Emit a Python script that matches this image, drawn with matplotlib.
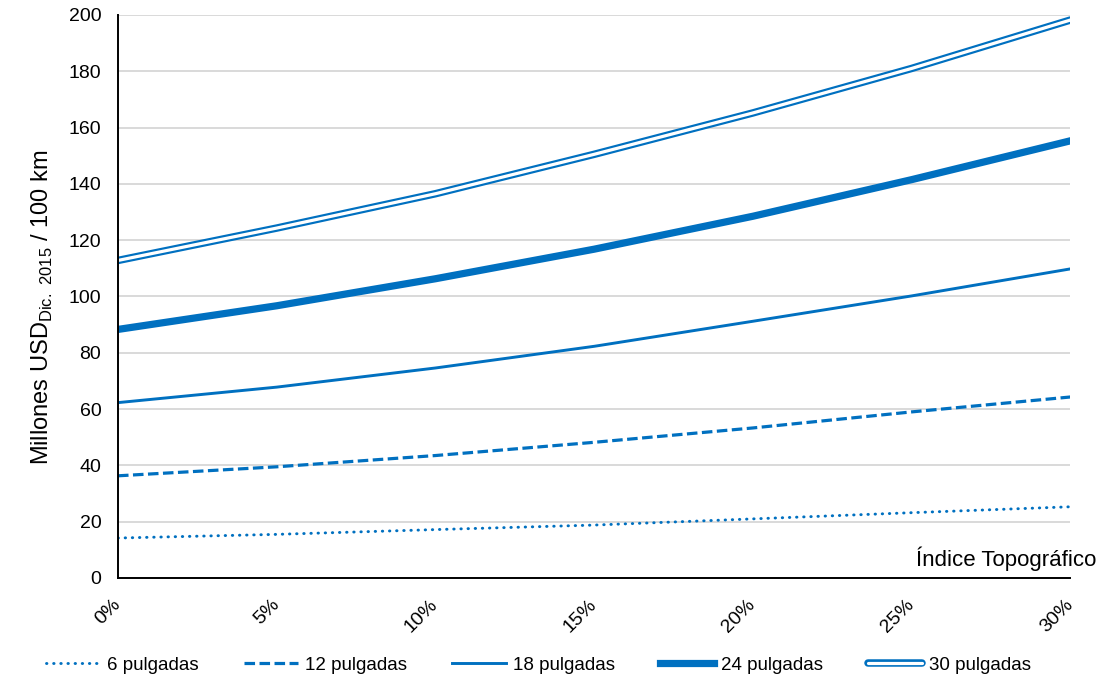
import matplotlib.pyplot as plt
import matplotlib.transforms as mtransforms
from matplotlib.legend_handler import HandlerTuple

plt.rcParams['font.family'] = ['Liberation Sans', 'DejaVu Sans']
plt.rcParams['mathtext.fontset'] = 'custom'
plt.rcParams['mathtext.rm'] = 'Liberation Sans'

# Data
indice = [0, 5, 10, 15, 20, 25, 30]
x_labels = ["0%", "5%", "10%", "15%", "20%", "25%", "30%"]
p6 = [14.2, 15.5, 17.2, 18.8, 21.0, 23.2, 25.3]
p12 = [36.3, 39.5, 43.5, 48.2, 53.3, 59.0, 64.3]
p18 = [62.3, 67.8, 74.6, 82.3, 91.2, 100.2, 109.8]
p24 = [88.3, 96.7, 106.3, 116.8, 128.5, 141.5, 155.3]
p30 = [112.8, 124.3, 136.5, 150.5, 165.2, 181.0, 198.2]

blue = "#0070C0"

fig = plt.figure(figsize=(11.1, 6.8), dpi=100)
ax = fig.add_axes([0.1063, 0.15, 0.858, 0.828])

l6, = ax.plot(indice, p6, color=blue, lw=2.1, linestyle=(0, (0.15, 2.3)),
              dash_capstyle="round", label="6 pulgadas")
l12, = ax.plot(indice, p12, color=blue, lw=2.3, linestyle=(0, (3.3, 1.4)),
               label="12 pulgadas")
l18, = ax.plot(indice, p18, color=blue, lw=2.1, label="18 pulgadas")
l24, = ax.plot(indice, p24, color=blue, lw=5.2, label="24 pulgadas")
l30a, = ax.plot(indice, p30, color=blue, lw=5.4, solid_capstyle="round")
l30b, = ax.plot(indice, p30, color="white", lw=2.3, solid_capstyle="round")

ax.set_xlim(0, 30)
ax.set_ylim(0, 200)
ax.set_yticks(range(0, 201, 20))
ax.set_xticks(indice)
ax.set_xticklabels(x_labels, rotation=45, ha="right", va="top")
ax.tick_params(axis="both", length=0, labelsize=14, colors="black")
ax.tick_params(axis="y", pad=12)
ax.tick_params(axis="x", pad=13)

# nudge the rotated x labels a little to the right
shift = mtransforms.ScaledTranslation(6 / 100, 0, fig.dpi_scale_trans)
for lab in ax.get_xticklabels():
    lab.set_transform(lab.get_transform() + shift)

ax.grid(axis="y", color="#D9D9D9", lw=1.4)
ax.set_axisbelow(True)
for s in ["top", "right"]:
    ax.spines[s].set_visible(False)
ax.spines["left"].set_linewidth(1.4)
ax.spines["bottom"].set_linewidth(1.4)

ax.set_ylabel(r"Millones USD$_{\mathregular{Dic.\ 2015}}$ / 100 km", fontsize=17, labelpad=10)
ax.yaxis.label.set_y(0.48)
fig.text(0.988, 0.16, "Índice Topográfico", ha="right", va="bottom", fontsize=16)

fig.legend([l6, l12, l18, l24, (l30a, l30b)],
           ["6 pulgadas", "12 pulgadas", "18 pulgadas", "24 pulgadas", "30 pulgadas"],
           handler_map={tuple: HandlerTuple(ndivide=1, pad=0)},
           loc="center", bbox_to_anchor=(0.485, 0.022), ncol=5, frameon=False,
           fontsize=13.5, handlelength=2.9, handletextpad=0.35, columnspacing=2.4)

fig.savefig("out.png", dpi=100)
